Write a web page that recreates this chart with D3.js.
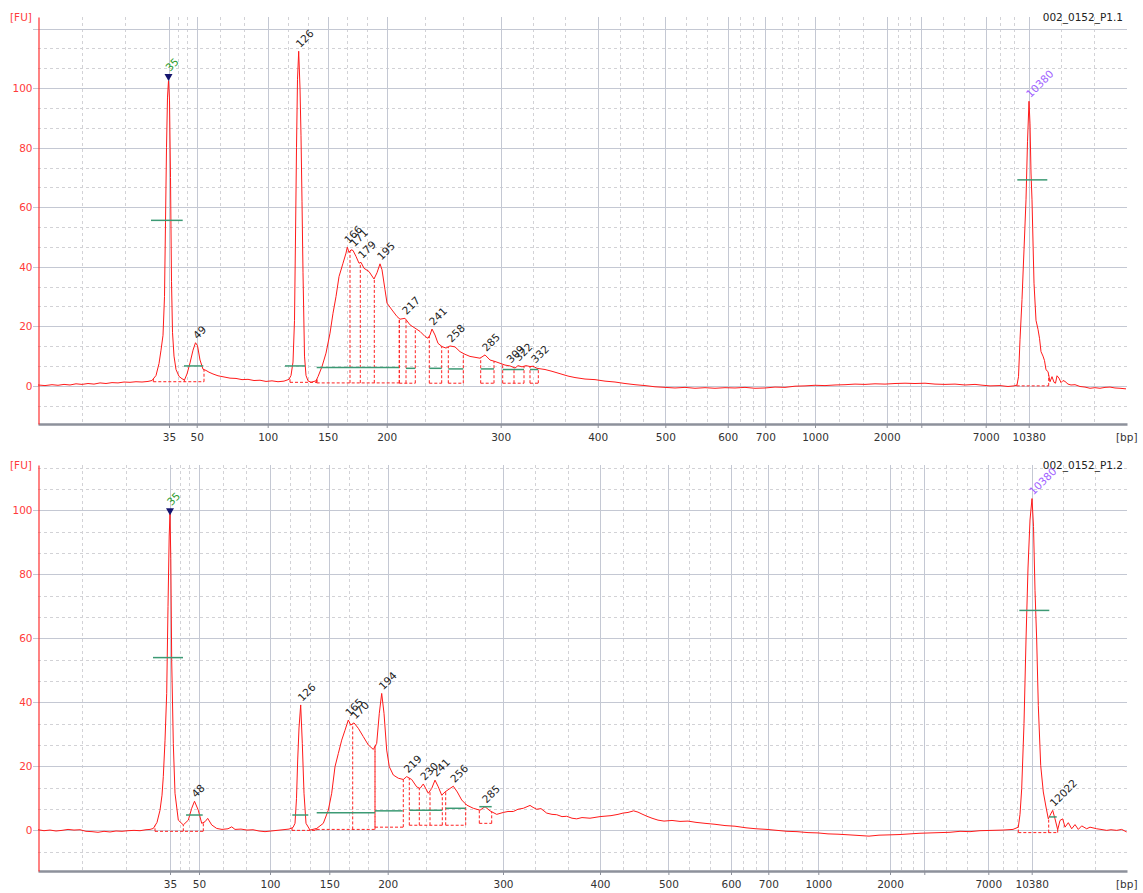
<!DOCTYPE html>
<html>
<head>
<meta charset="utf-8">
<script src="https://cdn.jsdelivr.net/npm/d3@7"></script>
<style>
  body { margin: 0; background: #fff; }
  svg { display: block; font-family: "DejaVu Sans", Verdana, sans-serif; }
</style>
</head>
<body>
<div id="chart"></div>
<script>
// ladder (bp) and where each ladder fragment migrated (seconds) in the two runs
const ladderBp = [35, 50, 100, 150, 200, 300, 400, 500, 600, 700, 1000, 2000, 3000, 7000, 10380];
const ladderLabels = ["35", "50", "100", "150", "200", "300", "400", "500", "600", "700", "1000", "2000", "", "7000", "10380"];
const ladderTime1 = [33.1, 35.87, 42.97, 48.97, 54.87, 66.27, 75.97, 82.73, 88.97, 92.73, 97.7, 104.87, 108.33, 114.77, 119.07];
const ladderTime2 = [33.2, 36.1, 43.2, 49.13, 54.97, 66.5, 76.2, 83.04, 89.3, 93.03, 98.03, 105.2, 108.63, 115.03, 119.37];
const timeDomain = [20, 128.9];

// electropherogram traces: [time s, FU]
const trace1 = [
  [20.0,0.3],[20.7,0.1],[21.4,0.4],[22.0,0.2],[22.6,0.5],[23.2,0.3],[23.8,0.7],[24.4,0.5],[25.0,0.8],[25.6,0.6],
  [26.2,1.0],[26.8,0.8],[27.4,1.1],[28.0,1.0],[28.6,1.3],[29.2,1.2],[29.8,1.4],[30.4,1.3],[31.0,1.5],[31.4,1.8],
  [31.8,3.5],[32.1,7.5],[32.3,12],[32.5,17],[32.65,30],[32.75,55],[32.85,80],[32.95,97],[33.05,102.5],[33.15,96],
  [33.25,70],[33.35,35],[33.45,18],[33.6,10],[33.8,5.5],[34.1,3.2],[34.4,2.4],[34.65,2.0],[34.9,4],[35.2,7.7],
  [35.5,12],[35.75,14.5],[35.95,13.5],[36.2,8.7],[36.5,5.6],[36.8,5.2],[37.1,4.6],[37.5,4.0],[38.0,3.4],[38.6,3.0],
  [39.2,2.6],[39.8,2.5],[40.4,2.1],[41.0,2.2],[41.6,1.8],[42.2,1.9],[42.8,1.5],[43.4,1.7],[44.0,1.4],[44.6,1.6],
  [45.1,2.2],[45.3,3.5],[45.5,8],[45.65,22],[45.75,50],[45.85,80],[45.95,103],[46.07,112.4],[46.2,100],[46.3,84],
  [46.4,62],[46.5,38],[46.65,10],[46.8,3.5],[47.0,1.7],[47.3,1.2],[47.6,1.5],[47.8,1.7],[48.0,3.1],[48.4,6.5],
  [48.8,11],[49.2,17.7],[49.5,24.4],[49.8,30],[50.1,36.7],[50.5,41.2],[50.8,44.6],[50.93,46.6],[51.1,44.8],[51.3,45.7],
  [51.5,45.5],[51.8,43.5],[52.1,41.2],[52.3,41.5],[52.6,39.5],[53.1,38.4],[53.6,35.9],[53.9,38],[54.2,41],[54.4,39],
  [54.7,32.3],[54.9,27.8],[55.4,25.5],[55.9,23.3],[56.2,22.4],[56.7,22.7],[57.2,20.5],[57.7,19.4],[58.2,18.3],[58.7,16.6],
  [59.0,16],[59.2,17.1],[59.4,19.1],[59.7,17.1],[60.0,14.3],[60.4,13.2],[60.8,12.7],[61.2,13.4],[61.7,13.1],[62.2,11.5],
  [62.7,10.6],[63.2,9.9],[63.7,9.6],[64.2,9.3],[64.7,10.4],[65.2,8.7],[65.7,8.2],[66.2,7.6],[66.7,7.0],[67.2,6.7],
  [67.7,6.0],[68.0,6.8],[68.4,6.4],[68.8,6.8],[69.2,6.5],[69.5,6.6],[69.9,5.9],[70.7,5.5],[71.4,4.9],[72.2,4.1],
  [73.0,3.3],[73.7,2.8],[74.7,2.3],[75.7,2.1],[76.7,1.6],[77.7,1.3],[78.7,0.8],[79.7,0.4],[80.7,0.1],[81.7,-0.3],
  [82.7,-0.5],[83.7,-0.7],[84.7,-0.5],[85.7,-0.8],[86.7,-0.6],[87.7,-0.8],[88.7,-0.6],[89.7,-0.7],[90.7,-0.5],[91.7,-0.8],
  [92.7,-0.7],[93.7,-0.4],[94.7,-0.5],[95.7,-0.1],[96.7,0],[97.7,0.2],[98.7,0.1],[99.7,0.3],[100.7,0.4],[101.7,0.6],
  [102.7,0.5],[103.7,0.7],[104.7,0.6],[105.7,0.8],[106.7,0.9],[107.7,0.8],[108.7,0.9],[109.7,0.6],[110.7,0.5],[111.7,0.6],
  [112.7,0.3],[113.7,0.5],[114.5,0.2],[115.2,0],[116.2,0.1],[117.0,-0.2],[117.6,0],[117.9,0.3],[118.05,3.1],[118.2,15.5],
  [118.4,29],[118.6,45.7],[118.8,62.5],[118.95,82],[119.1,95.6],[119.2,88],[119.3,71.5],[119.4,62.5],[119.6,34.5],[119.8,22],
  [120.0,19],[120.15,16],[120.3,11.5],[120.5,10],[120.65,8.5],[120.8,5.4],[121.0,4.8],[121.2,1.4],[121.4,3.1],[121.6,1.2],
  [121.75,0.9],[121.9,3.4],[122.1,2.6],[122.3,1.1],[122.5,1.8],[122.7,1.5],[123.0,0.6],[123.3,0.3],[123.7,0.4],[124.2,-0.2],
  [124.7,-0.4],[125.2,-0.8],[125.7,-0.6],[126.2,-0.8],[126.7,-0.5],[127.2,-0.4],[127.7,-0.7],[128.2,-0.8],[128.8,-1]
];

const trace2 = [
  [20.0,0.2],[20.6,-0.1],[21.2,0.1],[21.8,-0.2],[22.4,0.0],[23.0,0.3],[23.6,0.1],[24.2,0.2],[24.8,-0.3],[25.4,-0.4],
  [26.0,-0.6],[26.6,-0.3],[27.2,-0.5],[27.8,-0.2],[28.4,-0.3],[29.0,-0.1],[29.6,0.0],[30.2,-0.1],[30.8,0.2],[31.2,0.3],
  [31.53,0.6],[31.9,2.5],[32.2,6.3],[32.4,11],[32.53,16.8],[32.7,28],[32.87,42.8],[33.0,70],[33.12,92],[33.2,99],
  [33.28,85],[33.37,53],[33.53,27.2],[33.7,11.6],[34.03,3.2],[34.53,1.7],[35.03,3.2],[35.37,6.9],[35.65,9.1],[36.03,6.3],
  [36.37,2.2],[36.7,2.7],[36.97,3.75],[37.37,1.7],[37.87,0.6],[38.4,0.3],[39.0,0.5],[39.37,1.1],[39.7,0.3],[40.3,0.4],
  [40.9,0.1],[41.5,0.2],[42.1,-0.2],[42.7,-0.4],[43.3,-0.2],[43.9,0.0],[44.5,0.2],[45.1,0.4],[45.5,0.9],[45.7,2.2],
  [45.85,10],[45.97,22],[46.1,32],[46.27,39.2],[46.43,27.2],[46.6,11.6],[46.8,2.2],[47.2,0.1],[47.87,0.6],[48.53,2.2],
  [49.03,6.3],[49.37,11.6],[49.7,19.9],[50.03,24],[50.37,28.2],[50.7,31.3],[51.03,34.5],[51.27,32.9],[51.6,33.6],[52.03,31.9],
  [52.53,29.3],[53.03,26.7],[53.53,25.3],[53.87,27.2],[54.13,36.6],[54.37,42.8],[54.6,36.6],[54.87,25.1],[55.13,19.9],[55.53,17.3],
  [56.03,16.3],[56.53,15.9],[56.87,16.8],[57.37,15.9],[57.87,13.6],[58.2,13.1],[58.53,14.5],[59.03,11.6],[59.37,13.1],[59.7,15.7],
  [60.03,13.6],[60.37,11],[60.7,12],[61.2,13.1],[61.53,13.8],[61.93,12],[62.37,9.5],[62.87,7.9],[63.53,6.9],[64.2,6.3],
  [64.7,7.4],[65.2,6.1],[65.87,5.0],[66.53,5.6],[67.0,5.9],[67.53,5.9],[68.0,6.6],[68.53,6.9],[69.2,7.8],[69.5,7.2],
  [69.87,6.6],[70.3,6.8],[70.87,5.4],[71.4,5.0],[71.87,4.9],[72.4,4.3],[72.87,4.4],[73.4,3.8],[73.87,3.6],[74.4,4.0],
  [75.2,3.8],[76.2,4.3],[77.3,4.6],[78.0,5.0],[78.5,5.4],[79.0,5.6],[79.56,6.1],[80.0,5.7],[80.4,5.1],[80.9,4.4],
  [81.4,3.8],[82.0,3.2],[82.6,2.9],[83.4,3.1],[84.2,2.8],[85.0,2.9],[85.8,2.5],[86.7,2.2],[87.7,1.9],[88.7,1.5],
  [89.7,1.3],[90.8,0.8],[91.8,0.5],[92.9,0.3],[93.9,0.0],[94.9,-0.3],[95.9,-0.4],[97.0,-0.7],[98.0,-0.8],[99.0,-1.1],
  [100.0,-1.2],[101.1,-1.4],[102.1,-1.6],[103.1,-1.8],[104.1,-1.5],[105.2,-1.4],[106.2,-1.3],[107.2,-1.1],[108.2,-0.9],[109.2,-0.8],
  [110.2,-0.7],[111.2,-0.6],[112.2,-0.3],[113.2,-0.4],[114.2,-0.1],[115.4,0.0],[116.5,0.1],[117.5,0.3],[118.03,1.0],[118.2,5],
  [118.37,13],[118.6,33.4],[118.8,59.5],[119.0,82],[119.2,97],[119.4,103.7],[119.55,95],[119.7,75],[119.87,59.5],[120.03,39],
  [120.27,20.3],[120.53,12],[120.8,7.3],[121.03,3.6],[121.2,4.7],[121.47,6.25],[121.7,3.6],[121.97,0.2],[122.2,3.1],[122.47,3.6],
  [122.7,1.0],[123.03,2.4],[123.37,0.5],[123.7,1.8],[124.03,0.3],[124.37,1.4],[124.87,0.5],[125.2,1.0],[125.87,0.5],[126.3,0.3],
  [126.87,0.0],[127.3,0.2],[127.87,0.0],[128.37,0.3],[128.87,-0.5]
];

// called peaks: [time s, FU at top, size label, kind]
const peaks1 = [
  [33.05, 102.4, "35", "lower"], [35.8, 14.5, "49", "peak"], [46.07, 112.4, "126", "peak"],
  [50.93, 46.6, "166", "peak"], [51.5, 45.5, "171", "peak"], [52.3, 41.5, "179", "peak"],
  [54.2, 41, "195", "peak"], [56.7, 22.7, "217", "peak"], [59.4, 19.1, "241", "peak"],
  [61.2, 13.4, "258", "peak"], [64.7, 10.4, "285", "peak"], [67.15, 6.4, "309", "peak"],
  [67.95, 7.1, "322", "peak"], [69.6, 6.4, "332", "peak"], [119.1, 95.6, "10380", "upper"]
];
const peaks2 = [
  [33.2, 98.5, "35", "lower"], [35.65, 9.1, "48", "peak"], [46.27, 39.2, "126", "peak"],
  [51.03, 34.5, "165", "peak"], [51.6, 33.6, "170", "peak"], [54.37, 42.8, "194", "peak"],
  [56.87, 16.8, "219", "peak"], [58.53, 14.5, "230", "peak"], [59.7, 15.7, "241", "peak"],
  [61.53, 13.8, "256", "peak"], [64.7, 7.4, "285", "peak"], [119.4, 103.7, "10380", "upper"],
  [121.47, 6.25, "12022", "peak"]
];

// integration regions: [start s, end s, baseline FU, [split times]]
const regions1 = [
  [31.53, 36.6, 1.4, [34.63]], [45.2, 47.9, 1.2, []], [47.87, 56.13, 1.0, [51.2, 52.23, 53.63]],
  [56.13, 57.73, 0.9, [56.8]], [59.13, 60.37, 0.9, []], [61.03, 62.53, 0.9, []],
  [64.27, 65.6, 0.9, []], [66.47, 68.6, 0.9, [67.6]], [69.2, 70.03, 0.9, []], [117.87, 121.07, 0.0, []]
];
const regions2 = [
  [31.7, 36.53, -0.3, [34.53]], [45.4, 47.8, 0.0, []], [47.87, 53.7, 0.3, [51.47]],
  [53.7, 56.53, 1.0, []], [57.13, 60.43, 1.6, [58.13, 59.2]], [60.77, 62.77, 1.6, []],
  [64.13, 65.37, 2.2, []], [118.03, 121.97, -0.7, [121.07]]
];

// peak widths at half height: [start s, end s, FU]
const widths1 = [
  [31.3, 34.47, 55.6], [34.6, 36.53, 6.7], [44.7, 46.7, 6.7], [47.87, 56.1, 6.2], [56.8, 57.73, 5.9],
  [59.13, 60.37, 5.9], [61.03, 62.53, 5.7], [64.27, 65.6, 5.7], [66.47, 68.6, 5.5], [69.2, 70.03, 5.5],
  [117.93, 120.93, 69.2]
];
const widths2 = [
  [31.5, 34.5, 54], [34.8, 36.47, 4.8], [45.43, 47.03, 4.8], [47.87, 53.7, 5.5], [53.7, 56.47, 6.1],
  [57.13, 60.43, 6.3], [60.77, 62.77, 6.9], [64.13, 65.37, 7.4], [118.13, 121.13, 68.75], [121.13, 121.87, 4.2]
];

const width = 1143;
const height = 893;
const X0 = 38, X1 = 1127;

const svg = d3.select("#chart").append("svg")
    .attr("width", width)
    .attr("height", height);

const panels = [
    { name: "002_0152_P1.1", trace: trace1, peaks: peaks1, regions: regions1, widths: widths1, ladder: ladderTime1, top: 17, bottom: 424, fu: [-12.8, 123.9] },
    { name: "002_0152_P1.2", trace: trace2, peaks: peaks2, regions: regions2, widths: widths2, ladder: ladderTime2, top: 465, bottom: 871, fu: [-12.7, 114.2] },
];

panels.forEach(drawPanel);

function drawPanel(p) {
    const x = d3.scaleLinear().domain(timeDomain).range([X0, X1]);
    const y = d3.scaleLinear().domain(p.fu).range([p.bottom, p.top]);
    const g = svg.append("g");

    // vertical grid: solid at ladder, dashed thirds in between
    const edges = [timeDomain[0], ...p.ladder, timeDomain[1]];
    const minorX = [];
    for (let i = 0; i < edges.length - 1; i++) {
        const a = edges[i], b = edges[i + 1];
        minorX.push(a + (b - a) / 3, a + 2 * (b - a) / 3);
    }
    // horizontal grid: solid every 20 FU, dashed thirds
    const majorY = [], minorY = [];
    for (let i = -3; i <= 21; i++) {
        const v = i * 20 / 3;
        if (v < p.fu[0] || v > p.fu[1]) continue;
        (i % 3 === 0 ? majorY : minorY).push(v);
    }

    g.append("g").selectAll("line").data(minorX).join("line")
        .attr("x1", d => Math.round(x(d)) + 0.5).attr("x2", d => Math.round(x(d)) + 0.5)
        .attr("y1", p.top).attr("y2", p.bottom)
        .attr("stroke", "#d2d2d6").attr("stroke-dasharray", "3,3");
    g.append("g").selectAll("line").data(minorY).join("line")
        .attr("x1", X0).attr("x2", X1)
        .attr("y1", d => Math.round(y(d)) + 0.5).attr("y2", d => Math.round(y(d)) + 0.5)
        .attr("stroke", "#d2d2d6").attr("stroke-dasharray", "3,3");
    g.append("g").selectAll("line").data(p.ladder).join("line")
        .attr("x1", d => Math.round(x(d)) + 0.5).attr("x2", d => Math.round(x(d)) + 0.5)
        .attr("y1", p.top).attr("y2", p.bottom)
        .attr("stroke", "#c4c8d3");
    g.append("g").selectAll("line").data(majorY).join("line")
        .attr("x1", X0 - 5).attr("x2", X1)
        .attr("y1", d => Math.round(y(d)) + 0.5).attr("y2", d => Math.round(y(d)) + 0.5)
        .attr("stroke", "#c4c8d3");

    // x axis
    const xAxis = g.append("g")
        .attr("transform", `translate(0,${p.bottom})`)
        .call(d3.axisBottom(x)
            .tickValues(p.ladder)
            .tickFormat((d, i) => ladderLabels[i])
            .tickSize(4).tickSizeOuter(0).tickPadding(6));
    xAxis.select(".domain").attr("stroke", "#8d919b").attr("stroke-width", 2.5);
    xAxis.selectAll(".tick line").attr("stroke", "#8d919b");
    xAxis.selectAll(".tick text").attr("fill", "#333").attr("font-size", "10.5px")
        .attr("font-family", "DejaVu Sans, Verdana, sans-serif");

    // y axis
    const yAxis = g.append("g")
        .attr("transform", `translate(${X0 + 0.5},0)`)
        .call(d3.axisLeft(y)
            .tickValues(majorY)
            .tickFormat(d => d <= 100 ? d : "")
            .tickSize(0).tickSizeOuter(0).tickPadding(6));
    yAxis.select(".domain").attr("stroke", "#ff3030").attr("stroke-width", 1.2);
    yAxis.selectAll(".tick text").attr("fill", "#ff3b3b").attr("font-size", "10.5px")
        .attr("font-family", "DejaVu Sans, Verdana, sans-serif");

    g.append("text").text("[FU]")
        .attr("x", 10).attr("y", p.top + 4)
        .attr("fill", "#ff3b3b").attr("font-size", "10.5px");
    g.append("text").text("[bp]")
        .attr("x", 1116).attr("y", p.bottom + 17)
        .attr("fill", "#333").attr("font-size", "10.5px");
    g.append("text").text(p.name)
        .attr("x", 1123).attr("y", p.top + 4)
        .attr("text-anchor", "end")
        .attr("fill", "#222").attr("font-size", "10.5px");

    // integration boxes (dashed red); every vertical starts at the baseline so shared edges overlap cleanly
    const bis = d3.bisector(d => d[0]).left;
    const traceAt = t => {
        const i = Math.max(1, Math.min(p.trace.length - 1, bis(p.trace, t)));
        const a = p.trace[i - 1], b = p.trace[i];
        return a[1] + (b[1] - a[1]) * (t - a[0]) / (b[0] - a[0]);
    };
    const regionPath = r => {
        const [t0, t1, base, splits] = r;
        let d = `M${x(t0)},${y(base)}H${x(t1)}`;
        [t0, ...splits, t1].forEach(s => { d += `M${x(s)},${y(base)}V${y(traceAt(s))}`; });
        return d;
    };
    g.append("g").selectAll("path").data(p.regions).join("path")
        .attr("d", regionPath)
        .attr("fill", "none")
        .attr("stroke", "#ff2020")
        .attr("stroke-width", 1)
        .attr("stroke-dasharray", "3,2");

    // trace
    const line = d3.line().x(d => x(d[0])).y(d => y(d[1]));
    g.append("path")
        .datum(p.trace)
        .attr("d", line)
        .attr("fill", "none")
        .attr("stroke", "#ff1a1a")
        .attr("stroke-width", 1)
        .attr("stroke-linejoin", "round");

    // half-height width bars
    g.append("g").selectAll("line").data(p.widths).join("line")
        .attr("x1", d => x(d[0])).attr("x2", d => x(d[1]))
        .attr("y1", d => y(d[2])).attr("y2", d => y(d[2]))
        .attr("stroke", "#3c9a74")
        .attr("stroke-width", 1.5);

    // lower marker triangle
    const lower = p.peaks.filter(d => d[3] === "lower");
    g.append("g").selectAll("path").data(lower).join("path")
        .attr("d", d => {
            const px = x(d[0]), py = y(d[1]);
            return `M${px},${py}L${px - 4},${py - 7}L${px + 4},${py - 7}Z`;
        })
        .attr("fill", "#14146e");

    // peak labels
    const colour = { lower: "#2b9a2b", upper: "#a060ff", peak: "#222" };
    g.append("g").selectAll("text").data(p.peaks).join("text")
        .text(d => d[2])
        .attr("transform", d => {
            const off = d[3] === "lower" ? 9 : 3;
            return `translate(${x(d[0]) + 1.5},${y(d[1]) - off}) rotate(-45)`;
        })
        .attr("fill", d => colour[d[3]])
        .attr("font-size", "10.5px");
}
</script>
</body>
</html>
